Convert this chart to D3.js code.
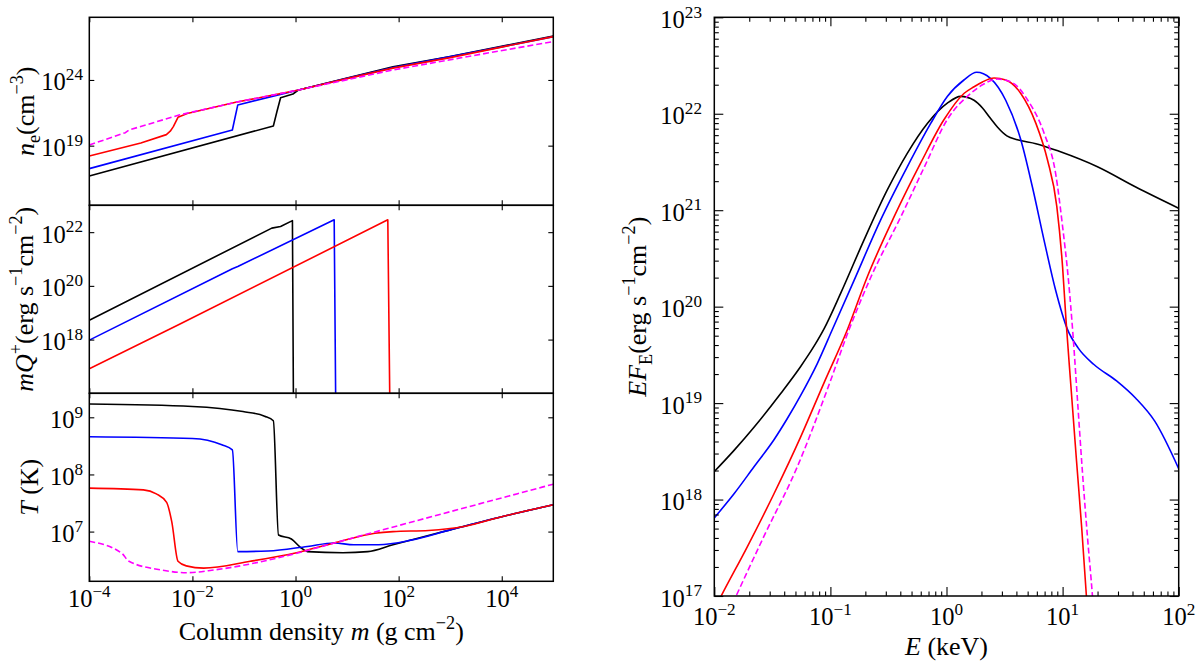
<!DOCTYPE html>
<html>
<head>
<meta charset="utf-8">
<script src="https://cdn.jsdelivr.net/npm/d3@7"></script>
<style>
body { margin: 0; background: #fff; }
text { font-family: "Liberation Serif", "DejaVu Serif", serif; fill: #000; }
</style>
</head>
<body>
<svg id="fig" width="1200" height="662"></svg>
<script>
// values, stored as [log10 x, log10 y]

// electron density n_e vs column density m
var neBlack = [[-4,16.69],[-0.43,20.5],[-0.36,21.6],[-0.29,22.65],[-0.05,22.93],[0.06,23.24],[1.0,24.15],[1.89,25.0],[3.0,25.78],[3.97,26.54],[5,27.35]];
var neBlue = [[-4,17.25],[-1.225,20.19],[-1.17,21.2],[-1.12,22.1],[0.06,23.24],[1.0,24.12],[1.89,24.95],[3.97,26.5],[5,27.3]];
var neRed = [[-4,18.21],[-3.0,19.2],[-2.505,19.84],[-2.43,20.1],[-2.37,20.45],[-2.28,21.16],[-2.1,21.45],[-1.16,22.3],[0.06,23.24],[1.0,24.1],[1.89,24.9],[3.0,25.7],[3.97,26.48],[5,27.3]];
var neMagenta = [[-4,19.05],[-3.3,19.99],[-3.23,20.19],[-2.26,21.33],[-1.16,22.3],[0.06,23.24],[1.89,24.76],[3.97,26.22],[5,26.92]];

// heating mQ+ vs column density m
var qBlack = [[-4,18.72],[-0.46,22.15],[-0.29,22.21],[-0.06,22.43],[-0.04,15.5]];
var qBlue = [[-4,17.98],[-1.225,20.64],[-1.12,20.72],[0.75,22.46],[0.78,15.5]];
var qRed = [[-4,16.91],[-2.26,18.56],[1.79,22.46],[1.83,15.5]];

// temperature T vs column density m
var tBlack = [[-4,9.233],[-2,9.19],[-1.02,9.10],[-0.6,9.02],[-0.43,8.94],[-0.33,6.94],[-0.08,6.87],[0.1,6.72],[0.23,6.65],[0.92,6.63],[1.4,6.65],[1.89,6.77],[3.0,7.03],[4.0,7.26],[5,7.47]];
var tBlue = [[-4,8.66],[-2,8.63],[-1.43,8.52],[-1.225,8.43],[-1.12,6.65],[-0.53,6.66],[0.23,6.74],[0.75,6.80],[1.13,6.77],[1.61,6.77],[2.24,6.85],[3.0,7.03],[4.0,7.26],[5,7.47]];
var tRed = [[-4,7.76],[-2.95,7.73],[-2.7,7.66],[-2.5,7.51],[-2.4,7.17],[-2.28,6.48],[-2.12,6.40],[-1.78,6.36],[-0.88,6.48],[0.02,6.63],[0.75,6.80],[1.54,6.97],[1.89,7.0],[2.58,7.02],[3.27,7.09],[4.0,7.26],[5,7.47]];
var tMagenta = [[-4,6.83],[-3.37,6.62],[-3.23,6.48],[-2.61,6.33],[-2.12,6.28],[-1.57,6.33],[0.02,6.62],[0.75,6.80],[5,7.83]];

// spectra E F_E vs E (keV)
var specBlack = [[-2,18.29],[-1.83,18.51],[-1.658,18.75],[-1.428,19.10],[-1.256,19.38],[-1.141,19.59],[-1.055,19.77],[-0.911,20.14],[-0.711,20.69],[-0.51,21.21],[-0.338,21.59],[-0.165,21.90],[0.007,22.11],[0.122,22.18],[0.237,22.14],[0.31,22.06],[0.38,21.95],[0.44,21.86],[0.52,21.77],[0.61,21.73],[0.77,21.69],[0.97,21.61],[1.30,21.45],[1.63,21.24],[2,21.02]];
var specBlue = [[-2,17.81],[-1.83,18.06],[-1.658,18.34],[-1.486,18.62],[-1.371,18.84],[-1.256,19.08],[-1.113,19.41],[-0.984,19.76],[-0.797,20.27],[-0.567,20.90],[-0.338,21.45],[-0.136,21.90],[0.007,22.18],[0.15,22.35],[0.26,22.43],[0.376,22.37],[0.51,22.14],[0.64,21.73],[0.74,21.24],[0.84,20.69],[0.94,20.17],[1.04,19.77],[1.135,19.57],[1.27,19.40],[1.465,19.23],[1.63,19.05],[1.795,18.81],[2,18.32]];
var specRed = [[-2,16.86],[-1.945,16.99],[-1.716,17.51],[-1.486,18.06],[-1.256,18.65],[-1.055,19.21],[-0.854,19.76],[-0.682,20.31],[-0.452,20.93],[-0.222,21.49],[-0.021,21.94],[0.15,22.21],[0.237,22.28],[0.31,22.33],[0.41,22.37],[0.51,22.35],[0.64,22.21],[0.77,21.90],[0.87,21.52],[0.95,21.04],[1.0,20.41],[1.03,19.85],[1.07,19.2],[1.12,18.4],[1.165,17.7],[1.205,17.0],[1.23,16.5]];
var specMagenta = [[-2,16.5],[-1.816,16.99],[-1.572,17.62],[-1.285,18.34],[-1.027,19.14],[-0.84,19.76],[-0.65,20.31],[-0.394,20.93],[-0.19,21.45],[0.007,21.94],[0.208,22.21],[0.31,22.30],[0.44,22.36],[0.57,22.32],[0.70,22.14],[0.84,21.80],[0.94,21.38],[1.0,20.83],[1.05,20.28],[1.09,19.7],[1.13,19.0],[1.17,18.3],[1.215,17.6],[1.257,17.0],[1.28,16.6]];

// tick exponents
var mTicks = [-4, -2, 0, 2, 4];
var neTicks = [24, 19];
var qTicks = [22, 20, 18];
var tTicks = [9, 8, 7];
var eTicks = [-2, -1, 0, 1, 2];
var fTicks = [17, 18, 19, 20, 21, 22, 23];

var svg = d3.select("#fig");
var FS = 24.5;   // tick labels
var LS = 26;     // axis labels

// text with italic / sup / sub pieces
function rich(t, parts, fs) {
    var cur = 0;
    parts.forEach(function(p) {
        var s = 0, size = fs;
        if (p.sup) { s = -0.42 * fs; size = fs * 0.7; }
        if (p.sub) { s = 0.22 * fs; size = fs * 0.7; }
        var ts = t.append("tspan").text(p.t).attr("font-size", size);
        if (s - cur != 0) ts.attr("dy", s - cur);
        cur = s;
        if (p.i) ts.attr("font-style", "italic");
    });
    return t;
}
function pow10(e) {
    return [{t: "10"}, {t: String(e).replace("-", "\u2212"), sup: true}];
}

function frame(x, y, xMaj, yMaj, majLen, minors) {
    var l = x.range()[0], r = x.range()[1], b = y.range()[0], tp = y.range()[1];
    var g = svg.append("g");
    var xMajV = xMaj.map(function(e) { return Math.pow(10, e); });
    var yMajV = yMaj.map(function(e) { return Math.pow(10, e); });
    var sets = [[xMajV, yMajV, majLen]];
    if (minors) {
        var isMaj = function(v) { return Math.abs(Math.log10(v) - Math.round(Math.log10(v))) < 1e-6; };
        sets.push([x.ticks().filter(function(v) { return !isMaj(v); }),
                   y.ticks().filter(function(v) { return !isMaj(v); }), 4.5]);
    }
    sets.forEach(function(s) {
        g.append("g").attr("transform", "translate(0," + b + ")")
            .call(d3.axisBottom(x).tickValues(s[0]).tickSize(-s[2]).tickSizeOuter(0).tickFormat(""));
        g.append("g").attr("transform", "translate(0," + tp + ")")
            .call(d3.axisTop(x).tickValues(s[0]).tickSize(-s[2]).tickSizeOuter(0).tickFormat(""));
        g.append("g").attr("transform", "translate(" + l + ",0)")
            .call(d3.axisLeft(y).tickValues(s[1]).tickSize(-s[2]).tickSizeOuter(0).tickFormat(""));
        g.append("g").attr("transform", "translate(" + r + ",0)")
            .call(d3.axisRight(y).tickValues(s[1]).tickSize(-s[2]).tickSizeOuter(0).tickFormat(""));
    });
    g.selectAll(".domain").remove();
    g.selectAll(".tick line").attr("stroke", "#000").attr("stroke-width", 1.1);
    g.append("rect").attr("x", l).attr("y", tp).attr("width", r - l).attr("height", b - tp)
        .attr("fill", "none").attr("stroke", "#000").attr("stroke-width", 1.5);
}

function yLabels(y, ticks, xEnd) {
    ticks.forEach(function(e) {
        rich(svg.append("text").attr("x", xEnd).attr("y", y(Math.pow(10, e)) + 10.5)
            .attr("text-anchor", "end"), pow10(e), FS);
    });
}
function xLabels(x, ticks, yBase) {
    ticks.forEach(function(e) {
        rich(svg.append("text").attr("x", x(Math.pow(10, e))).attr("y", yBase)
            .attr("text-anchor", "middle"), pow10(e), FS);
    });
}

var clipN = 0;
function drawLines(x, y, series, curve) {
    var id = "clip" + (clipN++);
    svg.append("clipPath").attr("id", id).append("rect")
        .attr("x", x.range()[0]).attr("y", y.range()[1])
        .attr("width", x.range()[1] - x.range()[0]).attr("height", y.range()[0] - y.range()[1]);
    var line = d3.line()
        .x(function(d) { return x(Math.pow(10, d[0])); })
        .y(function(d) { return y(Math.pow(10, d[1])); })
        .curve(curve);
    var g = svg.append("g").attr("clip-path", "url(#" + id + ")");
    series.forEach(function(s) {
        g.append("path").datum(s.data).attr("d", line)
            .attr("fill", "none").attr("stroke", s.color).attr("stroke-width", 1.6)
            .attr("stroke-dasharray", s.dash ? "6,3" : null)
            .attr("stroke-linejoin", "round");
    });
}

// ---- left column ----
var mx = d3.scaleLog().domain([1e-4, 1e5]).range([89.3, 553.3]);
var yNe = d3.scaleLog().domain([Math.pow(10, 14.46), Math.pow(10, 28.77)]).range([205.3, 17.3]);
var yQ = d3.scaleLog().domain([1e16, 1e23]).range([393.3, 205.3]);
var yT = d3.scaleLog().domain([Math.pow(10, 6.13), Math.pow(10, 9.42)]).range([581.3, 393.3]);

drawLines(mx, yNe, [
    {data: neBlack, color: "#000"}, {data: neBlue, color: "#0000ff"},
    {data: neRed, color: "#ff0000"}, {data: neMagenta, color: "#ff00ff", dash: true}], d3.curveLinear);
drawLines(mx, yQ, [
    {data: qBlack, color: "#000"}, {data: qBlue, color: "#0000ff"},
    {data: qRed, color: "#ff0000"}], d3.curveLinear);
drawLines(mx, yT, [
    {data: tBlack, color: "#000"}, {data: tBlue, color: "#0000ff"},
    {data: tRed, color: "#ff0000"}, {data: tMagenta, color: "#ff00ff", dash: true}], d3.curveMonotoneX);

frame(mx, yNe, mTicks, neTicks, 5, false);
frame(mx, yQ, mTicks, qTicks, 5, false);
frame(mx, yT, mTicks, tTicks, 5, false);

yLabels(yNe, neTicks, 83);
yLabels(yQ, qTicks, 83);
yLabels(yT, tTicks, 83);
xLabels(mx, mTicks, 607);

rich(svg.append("text").attr("x", 321.3).attr("y", 640).attr("text-anchor", "middle"),
    [{t: "Column density "}, {t: "m", i: true}, {t: " (g cm"}, {t: "\u22122", sup: true}, {t: ")"}], LS);

rich(svg.append("text").attr("transform", "translate(34,111.3) rotate(-90)").attr("text-anchor", "middle"),
    [{t: "n", i: true}, {t: "e", sub: true}, {t: "(cm"}, {t: "\u22123", sup: true}, {t: ")"}], LS);
rich(svg.append("text").attr("transform", "translate(33,299.3) rotate(-90)").attr("text-anchor", "middle"),
    [{t: "mQ", i: true}, {t: "+", sup: true}, {t: "(erg s"}, {t: "\u22121", sup: true}, {t: "cm"}, {t: "\u22122", sup: true}, {t: ")"}], LS);
rich(svg.append("text").attr("transform", "translate(38,487.3) rotate(-90)").attr("text-anchor", "middle"),
    [{t: "T", i: true}, {t: " (K)"}], LS);

// ---- right panel ----
var ex = d3.scaleLog().domain([1e-2, 1e2]).range([714.3, 1178.7]);
var fy = d3.scaleLog().domain([1e17, 1e23]).range([596, 17.3]);

drawLines(ex, fy, [
    {data: specBlack, color: "#000"}, {data: specBlue, color: "#0000ff"},
    {data: specRed, color: "#ff0000"}, {data: specMagenta, color: "#ff00ff", dash: true}], d3.curveMonotoneX);

frame(ex, fy, eTicks, fTicks, 9, true);
yLabels(fy, fTicks, 702);
xLabels(ex, eTicks, 625);

rich(svg.append("text").attr("x", 946.5).attr("y", 655).attr("text-anchor", "middle"),
    [{t: "E", i: true}, {t: " (keV)"}], LS);
rich(svg.append("text").attr("transform", "translate(646,306.7) rotate(-90)").attr("text-anchor", "middle"),
    [{t: "EF", i: true}, {t: "E", sub: true}, {t: "(erg s"}, {t: "\u22121", sup: true}, {t: "cm"}, {t: "\u22122", sup: true}, {t: ")"}], LS);
</script>
</body>
</html>
